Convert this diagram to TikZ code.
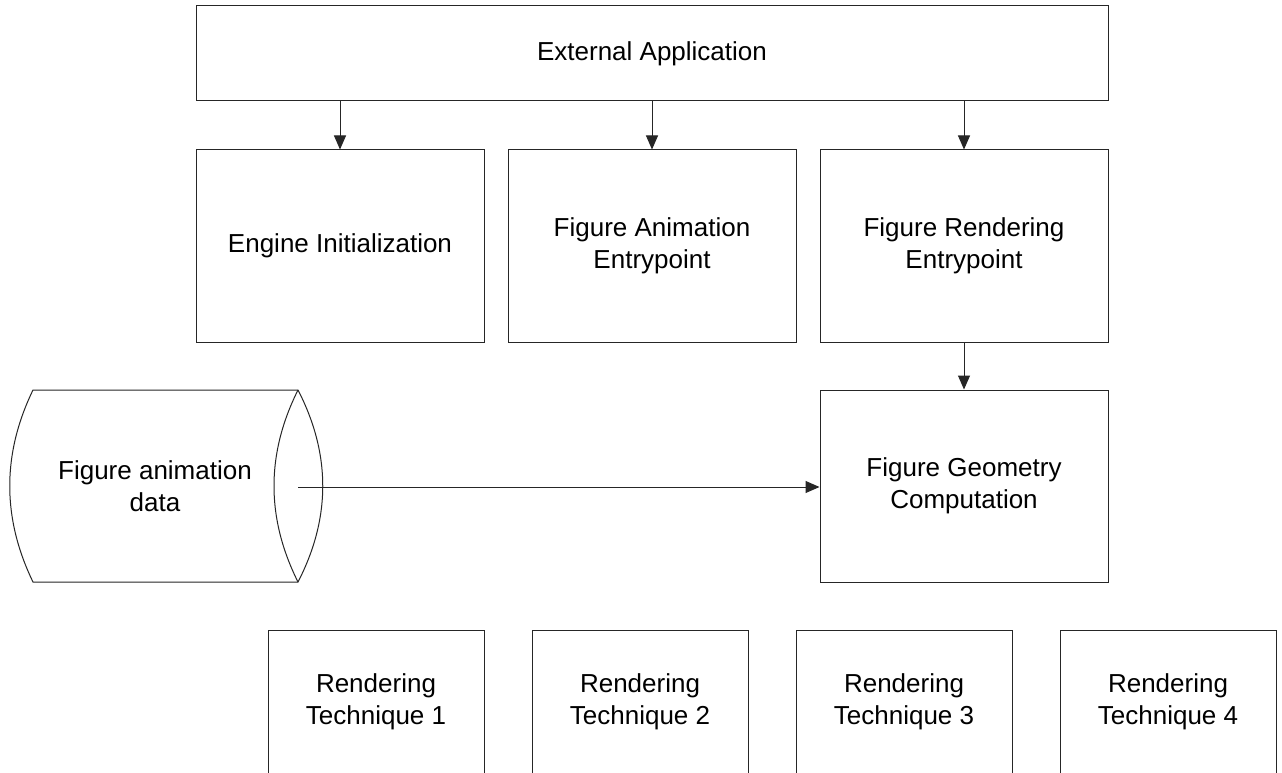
\documentclass[tikz,border=0pt]{standalone}
\usepackage{fontspec}
\setmainfont{Liberation Sans}
\usetikzlibrary{arrows.meta}
\tikzset{
  box/.style={draw=black!85, line width=1pt, fill=white, align=center, inner sep=0pt,
    font=\fontsize{26}{32}\selectfont},
  wide/.style={box, minimum width=912pt, minimum height=95pt},
  mid/.style={box, minimum width=288pt, minimum height=192pt},
  small/.style={box, minimum width=216pt, minimum height=144pt},
  conn/.style={draw=black!85, line width=1pt, -{Triangle[length=14pt,width=12pt]}},
}
\begin{document}
\begin{tikzpicture}[x=1pt,y=-1pt]
\useasboundingbox[fill=white] (0,0) rectangle (1282,773);
\clip (0,0) rectangle (1282,773);

\node[wide] (ext) at (652,53.5) {External Application};
\node[mid] (eng) at (340,246) {Engine Initialization};
\node[mid] (anim) at (652,246) {Figure Animation\\Entrypoint};
\node[mid] (rend) at (964,246) {Figure Rendering\\Entrypoint};
\node[mid] (geom) at (964,486) {Figure Geometry\\Computation};

\node[small] (t1) at (376,702) {Rendering\\Technique 1};
\node[small] (t2) at (640,702) {Rendering\\Technique 2};
\node[small] (t3) at (904,702) {Rendering\\Technique 3};
\node[small] (t4) at (1168,702) {Rendering\\Technique 4};

% data store (cylinder)
\draw[draw=black!85, line width=1pt]
  (33,390) -- (298,390)
  .. controls (331,454) and (331,518) .. (298,582)
  -- (33,582)
  .. controls (2,518) and (2,454) .. (33,390) -- cycle;
\draw[draw=black!85, line width=1pt]
  (298,390) .. controls (266,454) and (266,518) .. (298,582);
\node[font=\fontsize{26}{32}\selectfont, align=center] (data) at (155,486) {Figure animation\\data};
\coordinate (dataend) at (298,487);

\draw[conn] (ext.south -| eng.north) -- (eng.north);
\draw[conn] (ext.south -| anim.north) -- (anim.north);
\draw[conn] (ext.south -| rend.north) -- (rend.north);
\draw[conn] (rend.south) -- (geom.north);
\draw[conn] (dataend) -- (dataend -| geom.west);
\end{tikzpicture}
\end{document}
